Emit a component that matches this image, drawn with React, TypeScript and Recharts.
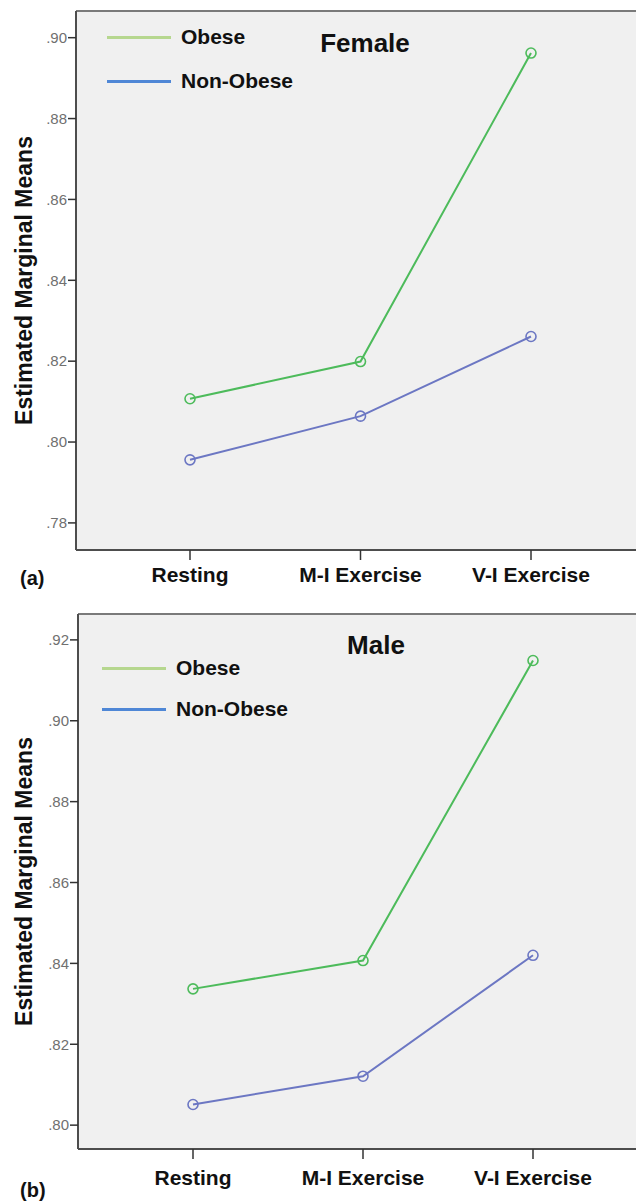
import { LineChart, Line, XAxis, YAxis, CartesianGrid, ReferenceLine } from "recharts";

const CATEGORIES = ["Resting", "M-I Exercise", "V-I Exercise"];
const SERIES_NAMES = ["Obese", "Non-Obese"];

const FEMALE_OBESE = [0.8107, 0.8199, 0.8962];
const FEMALE_NON_OBESE = [0.7956, 0.8064, 0.8261];
const MALE_OBESE = [0.8337, 0.8407, 0.9149];
const MALE_NON_OBESE = [0.8051, 0.8121, 0.842];

const FEMALE_TICKS = [0.78, 0.8, 0.82, 0.84, 0.86, 0.88, 0.9];
const MALE_TICKS = [0.8, 0.82, 0.84, 0.86, 0.88, 0.9, 0.92];

const LINE_COLORS = ["#4dbb5b", "#6c77c3"];
const LEGEND_COLORS = ["#b6d78f", "#4f87d6"];
const FONT = '"Liberation Sans", Arial, sans-serif';
const W = 636;

interface PanelProps {
  title: string;
  tag: string;
  obese: number[];
  nonObese: number[];
  ticks: number[];
  domain: [number, number];
  top: number;
  height: number;
  marginTop: number;
  axisWidth: number;
  padLeft: number;
  padRight: number;
  xAxisHeight: number;
  tickMargin: number;
  titleX: number;
  titleY: number;
  legendX: number;
  legendY: number;
  legendGap: number;
  tagY: number;
}

function fmt(v: number) {
  return v.toFixed(2).replace(/^0/, "");
}

function Panel(p: PanelProps) {
  const data = CATEGORIES.map((c, i) => ({
    cat: c,
    obese: p.obese[i],
    nonObese: p.nonObese[i],
  }));

  return (
    <div style={{ position: "absolute", left: 0, top: p.top, width: W, height: p.height }}>
      <LineChart
        width={W}
        height={p.height}
        data={data}
        margin={{ top: p.marginTop, right: 0, bottom: 0, left: 0 }}
        style={{ fontFamily: FONT }}
      >
        <CartesianGrid fill="#f0f0f0" stroke="none" horizontal={false} vertical={false} />
        <ReferenceLine y={p.domain[1]} stroke="#7a7a7a" strokeWidth={2} />
        <XAxis
          dataKey="cat"
          interval={0}
          padding={{ left: p.padLeft, right: p.padRight }}
          height={p.xAxisHeight}
          tickSize={10}
          tickMargin={p.tickMargin}
          axisLine={{ stroke: "#4d4d4d", strokeWidth: 2 }}
          tickLine={{ stroke: "#333", strokeWidth: 1.5 }}
          tick={{ fontSize: 21, fontWeight: 700, fill: "#111", fontFamily: FONT }}
        />
        <YAxis
          type="number"
          domain={p.domain}
          allowDataOverflow
          ticks={p.ticks}
          tickFormatter={fmt}
          width={p.axisWidth}
          tickSize={8}
          tickMargin={1}
          axisLine={{ stroke: "#4d4d4d", strokeWidth: 2 }}
          tickLine={{ stroke: "#333", strokeWidth: 1.5 }}
          tick={{ fontSize: 15, fill: "#707070", fontFamily: FONT }}
          label={{
            // eslint-disable-next-line @typescript-eslint/no-explicit-any
            content: (props: any) => {
              const vb = props.viewBox || {};
              const cy = (vb.y ?? 0) + (vb.height ?? 0) / 2;
              return (
                <text
                  x={24}
                  y={cy}
                  transform={`rotate(-90, 24, ${cy})`}
                  textAnchor="middle"
                  dominantBaseline="central"
                  fontSize={23}
                  fontWeight={700}
                  fill="#111"
                  fontFamily={FONT}
                >
                  Estimated Marginal Means
                </text>
              );
            },
          }}
        />
        <Line
          type="linear"
          dataKey="obese"
          name={SERIES_NAMES[0]}
          stroke={LINE_COLORS[0]}
          strokeWidth={2}
          dot={{ r: 5, fill: "none", stroke: LINE_COLORS[0], strokeWidth: 1.6 }}
          isAnimationActive={false}
        />
        <Line
          type="linear"
          dataKey="nonObese"
          name={SERIES_NAMES[1]}
          stroke={LINE_COLORS[1]}
          strokeWidth={2}
          dot={{ r: 5, fill: "none", stroke: LINE_COLORS[1], strokeWidth: 1.6 }}
          isAnimationActive={false}
        />
      </LineChart>

      <div
        style={{
          position: "absolute",
          left: p.titleX,
          top: p.titleY,
          transform: "translateX(-50%)",
          fontFamily: FONT,
          fontWeight: 700,
          fontSize: 26,
          lineHeight: "26px",
          color: "#111",
          whiteSpace: "nowrap",
        }}
      >
        {p.title}
      </div>

      {SERIES_NAMES.map((name, i) => (
        <div
          key={name}
          style={{
            position: "absolute",
            left: p.legendX,
            top: p.legendY + i * p.legendGap - 12,
            height: 24,
            display: "flex",
            alignItems: "center",
            fontFamily: FONT,
            fontWeight: 700,
            fontSize: 21,
            color: "#111",
            whiteSpace: "nowrap",
          }}
        >
          <span
            style={{
              display: "inline-block",
              width: 64,
              height: 3,
              background: LEGEND_COLORS[i],
              marginRight: 10,
            }}
          />
          {name}
        </div>
      ))}

      <div
        style={{
          position: "absolute",
          left: 20,
          top: p.tagY,
          fontFamily: FONT,
          fontWeight: 700,
          fontSize: 20,
          lineHeight: "22px",
          color: "#111",
        }}
      >
        {p.tag}
      </div>
    </div>
  );
}

export default function App() {
  return (
    <div
      style={{
        position: "absolute",
        left: 0,
        top: 0,
        width: W,
        height: 1204,
        overflow: "hidden",
        background: "#fff",
      }}
    >
      <Panel
        title="Female"
        tag="(a)"
        obese={FEMALE_OBESE}
        nonObese={FEMALE_NON_OBESE}
        ticks={FEMALE_TICKS}
        domain={[0.7733, 0.9066]}
        top={0}
        height={600}
        marginTop={11}
        axisWidth={76}
        padLeft={114}
        padRight={105}
        xAxisHeight={50}
        tickMargin={7}
        titleX={365}
        titleY={30}
        legendX={107}
        legendY={37}
        legendGap={44}
        tagY={567}
      />
      <Panel
        title="Male"
        tag="(b)"
        obese={MALE_OBESE}
        nonObese={MALE_NON_OBESE}
        ticks={MALE_TICKS}
        domain={[0.7941, 0.9264]}
        top={600}
        height={604}
        marginTop={14}
        axisWidth={78}
        padLeft={115}
        padRight={103}
        xAxisHeight={55}
        tickMargin={11}
        titleX={376}
        titleY={32}
        legendX={102}
        legendY={68}
        legendGap={41}
        tagY={579}
      />
    </div>
  );
}
